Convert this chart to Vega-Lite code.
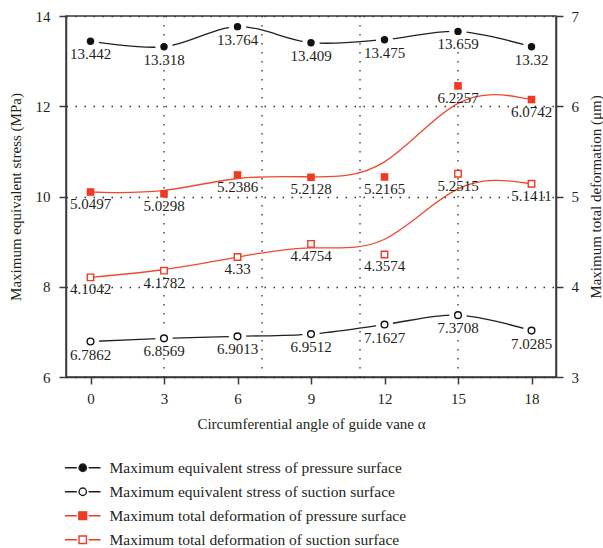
{
  "$schema": "https://vega.github.io/schema/vega-lite/v6.json",
  "autosize": {"type": "none"},
  "padding": {"left": 66, "top": 16, "right": 47, "bottom": 171},
  "width": 490,
  "height": 361,
  "background": "white",
  "config": {
    "font": "Liberation Serif",
    "view": {"stroke": "#3a3a3a", "strokeWidth": 1.5},
    "axis": {
      "labelFont": "Liberation Serif", "labelFontSize": 15, "labelColor": "#231f20",
      "titleFont": "Liberation Serif", "titleFontSize": 15, "titleFontWeight": "normal", "titleColor": "#231f20",
      "domainColor": "#3a3a3a", "domainWidth": 1.5, "tickColor": "#3a3a3a", "tickWidth": 1.5, "tickSize": 7, "grid": false
    },
    "legend": {
      "labelFont": "Liberation Serif", "labelFontSize": 15.5, "labelColor": "#231f20", "labelLimit": 500,
      "padding": 0, "rowPadding": 7, "symbolSize": 55, "symbolStrokeWidth": 1.4, "labelOffset": 19, "symbolOpacity": 1
    }
  },
  "datasets": {
    "stress": [
      {"series": "Maximum equivalent stress of pressure surface", "angle": 0, "value": 13.442},
      {"series": "Maximum equivalent stress of pressure surface", "angle": 3, "value": 13.318},
      {"series": "Maximum equivalent stress of pressure surface", "angle": 6, "value": 13.764},
      {"series": "Maximum equivalent stress of pressure surface", "angle": 9, "value": 13.409},
      {"series": "Maximum equivalent stress of pressure surface", "angle": 12, "value": 13.475},
      {"series": "Maximum equivalent stress of pressure surface", "angle": 15, "value": 13.659},
      {"series": "Maximum equivalent stress of pressure surface", "angle": 18, "value": 13.32},
      {"series": "Maximum equivalent stress of suction surface", "angle": 0, "value": 6.7862},
      {"series": "Maximum equivalent stress of suction surface", "angle": 3, "value": 6.8569},
      {"series": "Maximum equivalent stress of suction surface", "angle": 6, "value": 6.9013},
      {"series": "Maximum equivalent stress of suction surface", "angle": 9, "value": 6.9512},
      {"series": "Maximum equivalent stress of suction surface", "angle": 12, "value": 7.1627},
      {"series": "Maximum equivalent stress of suction surface", "angle": 15, "value": 7.3708},
      {"series": "Maximum equivalent stress of suction surface", "angle": 18, "value": 7.0285}
    ],
    "deform": [
      {"series": "Maximum total deformation of pressure surface", "angle": 0, "value": 5.0497},
      {"series": "Maximum total deformation of pressure surface", "angle": 3, "value": 5.0298},
      {"series": "Maximum total deformation of pressure surface", "angle": 6, "value": 5.2386},
      {"series": "Maximum total deformation of pressure surface", "angle": 9, "value": 5.2128},
      {"series": "Maximum total deformation of pressure surface", "angle": 12, "value": 5.2165},
      {"series": "Maximum total deformation of pressure surface", "angle": 15, "value": 6.2257},
      {"series": "Maximum total deformation of pressure surface", "angle": 18, "value": 6.0742},
      {"series": "Maximum total deformation of suction surface", "angle": 0, "value": 4.1042},
      {"series": "Maximum total deformation of suction surface", "angle": 3, "value": 4.1782},
      {"series": "Maximum total deformation of suction surface", "angle": 6, "value": 4.33},
      {"series": "Maximum total deformation of suction surface", "angle": 9, "value": 4.4754},
      {"series": "Maximum total deformation of suction surface", "angle": 12, "value": 4.3574},
      {"series": "Maximum total deformation of suction surface", "angle": 15, "value": 5.2515},
      {"series": "Maximum total deformation of suction surface", "angle": 18, "value": 5.1411}
    ],
    "vgrid": [{"angle": 3}, {"angle": 7}, {"angle": 11}, {"angle": 15}]
  },
  "encoding": {
    "x": {
      "field": "angle", "type": "quantitative",
      "scale": {"domain": [-1, 19], "nice": false, "zero": false},
      "axis": {"values": [0, 3, 6, 9, 12, 15, 18], "title": "Circumferential angle of guide vane α", "labelPadding": 7, "titleX": 245, "titleY": 46, "titleBaseline": "middle"}
    }
  },
  "layer": [
    {
      "data": {"name": "vgrid"},
      "mark": {"type": "rule", "strokeDash": [1.5, 7.5], "color": "#333333", "strokeWidth": 1.3},
      "encoding": {}
    },
    {
      "encoding": {
        "y": {
          "field": "value", "type": "quantitative",
          "scale": {"domain": [6, 14], "nice": false, "zero": false},
          "axis": {"orient": "left", "values": [6, 8, 10, 12, 14], "title": "Maximum equivalent stress (MPa)", "labelPadding": 9,
                   "grid": true, "gridDash": [1.5, 7.5], "gridColor": "#333333", "gridWidth": 1.3,
                   "titleAngle": 270, "titleX": -51, "titleY": 180.5, "titleBaseline": "middle", "titleAlign": "center"}
        }
      },
      "layer": [
        {
          "data": {"name": "stress"},
          "transform": [{"filter": {"field": "series", "equal": "Maximum equivalent stress of pressure surface"}}],
          "mark": {"type": "line", "interpolate": "cardinal", "color": "#231f20", "strokeWidth": 1.3}
        },
        {
          "data": {"name": "stress"},
          "transform": [{"filter": {"field": "series", "equal": "Maximum equivalent stress of suction surface"}}],
          "mark": {"type": "line", "interpolate": "cardinal", "color": "#231f20", "strokeWidth": 1.3}
        },
        {
          "data": {"name": "stress"},
          "mark": {"type": "point", "shape": "circle", "filled": true, "color": "white", "opacity": 1, "size": 300}
        },
        {
          "data": {"name": "stress"},
          "transform": [{"filter": {"field": "series", "equal": "Maximum equivalent stress of pressure surface"}}],
          "mark": {"type": "point", "shape": "circle", "filled": true, "color": "#111111", "opacity": 1, "size": 55}
        },
        {
          "data": {"name": "stress"},
          "transform": [{"filter": {"field": "series", "equal": "Maximum equivalent stress of suction surface"}}],
          "mark": {"type": "point", "shape": "circle", "filled": false, "stroke": "#111111", "fill": "white", "fillOpacity": 1, "opacity": 1, "strokeWidth": 1.4, "size": 45}
        },
        {
          "data": {"name": "stress"},
          "mark": {"type": "text", "font": "Liberation Serif", "fontSize": 15, "color": "#231f20", "baseline": "middle", "dy": 13},
          "encoding": {"text": {"field": "value", "type": "nominal"}}
        },
        {
          "data": {"name": "stress"},
          "mark": {"type": "point", "filled": true, "opacity": 0},
          "encoding": {
            "stroke": {
              "field": "series", "type": "nominal",
              "scale": {"domain": ["Maximum equivalent stress of pressure surface", "Maximum equivalent stress of suction surface", "Maximum total deformation of pressure surface", "Maximum total deformation of suction surface"],
                        "range": ["#231f20", "#231f20", "#ee3b24", "#ee3b24"]},
              "legend": {"title": null, "orient": "none", "legendX": 9, "legendY": 444, "direction": "vertical"}
            },
            "fill": {
              "field": "series", "type": "nominal",
              "scale": {"domain": ["Maximum equivalent stress of pressure surface", "Maximum equivalent stress of suction surface", "Maximum total deformation of pressure surface", "Maximum total deformation of suction surface"],
                        "range": ["#111111", "#ffffff", "#ee3b24", "#ffffff"]},
              "legend": {"title": null, "orient": "none", "legendX": 9, "legendY": 444, "direction": "vertical"}
            },
            "shape": {
              "field": "series", "type": "nominal",
              "scale": {"domain": ["Maximum equivalent stress of pressure surface", "Maximum equivalent stress of suction surface", "Maximum total deformation of pressure surface", "Maximum total deformation of suction surface"],
                        "range": ["M-4.8,0H-1.6M1.6,0H4.8M-1,0A1,1 0 1,0 1,0A1,1 0 1,0 -1,0",
                                  "M-4.8,0H-1.6M1.6,0H4.8M-1,0A1,1 0 1,0 1,0A1,1 0 1,0 -1,0",
                                  "M-4.8,0H-1.6M1.6,0H4.8M-1.05,-1.05H1.05V1.05H-1.05Z",
                                  "M-4.8,0H-1.6M1.6,0H4.8M-1,-1H1V1H-1Z"]},
              "legend": {"title": null, "orient": "none", "legendX": 9, "legendY": 444, "direction": "vertical"}
            }
          }
        }
      ]
    },
    {
      "encoding": {
        "y": {
          "field": "value", "type": "quantitative",
          "scale": {"domain": [3, 7], "nice": false, "zero": false},
          "axis": {"orient": "right", "values": [3, 4, 5, 6, 7], "title": "Maximum total deformation (μm)", "labelPadding": 8,
                   "titleAngle": 270, "titleX": 39, "titleY": 180.5, "titleBaseline": "middle", "titleAlign": "center"}
        }
      },
      "layer": [
        {
          "data": {"name": "deform"},
          "transform": [{"filter": {"field": "series", "equal": "Maximum total deformation of pressure surface"}}],
          "mark": {"type": "line", "interpolate": "basis", "color": "#ef4a30", "strokeWidth": 1.3}
        },
        {
          "data": {"name": "deform"},
          "transform": [{"filter": {"field": "series", "equal": "Maximum total deformation of suction surface"}}],
          "mark": {"type": "line", "interpolate": "basis", "color": "#ef4a30", "strokeWidth": 1.3}
        },
        {
          "data": {"name": "deform"},
          "transform": [{"filter": {"field": "series", "equal": "Maximum total deformation of pressure surface"}}],
          "mark": {"type": "point", "shape": "square", "filled": true, "color": "#ee3b24", "opacity": 1, "size": 58}
        },
        {
          "data": {"name": "deform"},
          "transform": [{"filter": {"field": "series", "equal": "Maximum total deformation of suction surface"}}],
          "mark": {"type": "point", "shape": "square", "filled": false, "stroke": "#ee3b24", "fill": "white", "fillOpacity": 1, "opacity": 1, "strokeWidth": 1.4, "size": 42}
        },
        {
          "data": {"name": "deform"},
          "mark": {"type": "text", "font": "Liberation Serif", "fontSize": 15, "color": "#231f20", "baseline": "middle", "dy": 12},
          "encoding": {"text": {"field": "value", "type": "nominal"}}
        }
      ]
    }
  ],
  "resolve": {"scale": {"y": "independent"}}
}
